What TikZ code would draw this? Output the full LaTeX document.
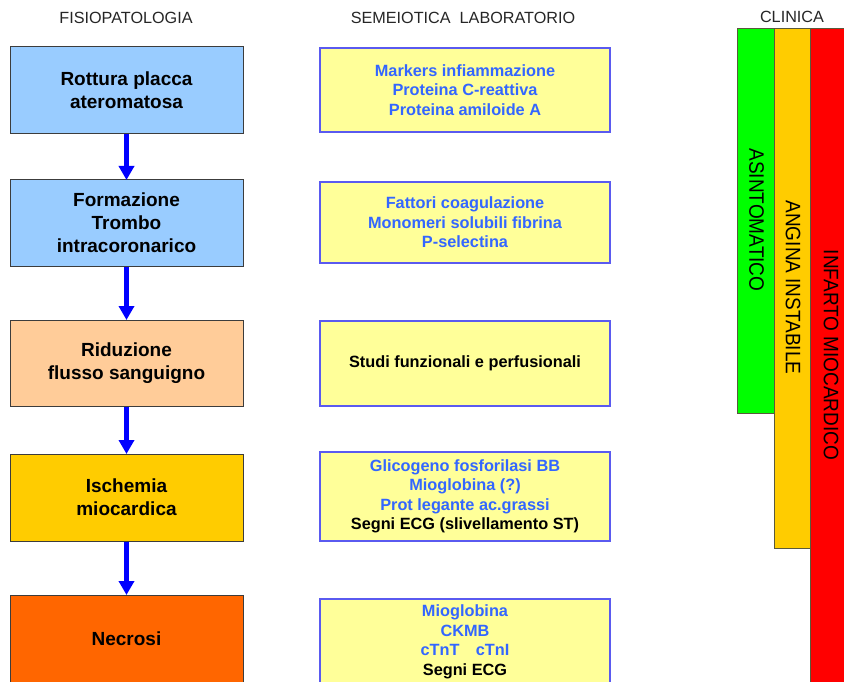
\documentclass[tikz,border=0pt]{standalone}
\usepackage{fontspec}
\usepackage{graphicx}
\setmainfont{Liberation Sans}
\usetikzlibrary{arrows.meta}

\definecolor{skyfill}{RGB}{153,204,255}
\definecolor{peachfill}{RGB}{255,204,153}
\definecolor{amberfill}{RGB}{255,204,0}
\definecolor{orangefill}{RGB}{255,102,0}
\definecolor{labfill}{RGB}{255,255,153}
\definecolor{labtext}{RGB}{51,102,255}
\definecolor{labedge}{RGB}{90,90,240}
\definecolor{boxedge}{RGB}{60,60,60}
\definecolor{baredge}{RGB}{90,90,60}
\definecolor{greenbar}{RGB}{0,255,0}
\definecolor{redbar}{RGB}{255,0,0}

\tikzset{
  header/.style={font=\fontsize{16.2}{19}\selectfont, text=black!85},
  patobox/.style={draw=boxedge, line width=1pt, minimum width=233pt,
    inner sep=0pt, outer sep=0pt, align=center,
    font=\fontsize{19}{23}\selectfont\bfseries},
  labbox/.style={draw=labedge, fill=labfill, line width=1.3pt, minimum width=290pt,
    inner sep=0pt, outer sep=0pt, align=center, text=labtext,
    font=\fontsize{16.3}{19.5}\selectfont\bfseries},
  flowarrow/.style={draw=blue, line width=4.5pt,
    -{Triangle[width=15pt,length=14pt]}, shorten <=0.5pt},
  bar/.style={draw=baredge, line width=1pt},
  bartext/.style={rotate=-90, font=\fontsize{19}{22}\selectfont, text=black}
}

\begin{document}
\begin{tikzpicture}[x=1pt,y=-1pt]
\useasboundingbox (0,0) rectangle (844,682);
\fill[white] (0,0) rectangle (844,682);
\clip (0,0) rectangle (844,682);

% column headings
\node[header] (h1) at (126,18) {FISIOPATOLOGIA};
\node[header] (h2) at (463,18) {SEMEIOTICA\ \ LABORATORIO};
\node[header] (h3) at (792,17) {CLINICA};

% pathophysiology chain
\node[patobox, fill=skyfill, minimum height=87pt] (p1) at (126.5,90.5) {Rottura placca\\ateromatosa};
\node[patobox, fill=skyfill, minimum height=86pt] (p2) at (126.5,223) {Formazione\\Trombo\\intracoronarico};
\node[patobox, fill=peachfill, minimum height=86pt] (p3) at (126.5,363) {Riduzione\\flusso sanguigno};
\node[patobox, fill=amberfill, minimum height=87pt] (p4) at (126.5,497.5) {Ischemia\\miocardica};
\node[patobox, fill=orangefill, minimum height=87pt] (p5) at (126.5,638.5) {Necrosi};

\draw[flowarrow] (p1.south) -- (p2.north);
\draw[flowarrow] (p2.south) -- (p3.north);
\draw[flowarrow] (p3.south) -- (p4.north);
\draw[flowarrow] (p4.south) -- (p5.north);

% laboratory findings
\node[labbox, minimum height=84pt] (s1) at (465,90) {Markers infiammazione\\Proteina C-reattiva\\Proteina amiloide A};
\node[labbox, minimum height=81pt] (s2) at (465,222.5) {Fattori coagulazione\\Monomeri solubili fibrina\\P-selectina};
\node[labbox, minimum height=85pt, text=black] (s3) at (465,363.5) {Studi funzionali e perfusionali};
\node[labbox, minimum height=89pt] (s4) at (465,496.5) {Glicogeno fosforilasi BB\\Mioglobina (?)\\Prot legante ac.grassi\\\textcolor{black}{Segni ECG (slivellamento ST)}};
\node[labbox, minimum height=86pt] (s5) at (465,642) {Mioglobina\\CKMB\\cTnT\quad cTnI\\\textcolor{black}{Segni ECG}};

% clinical spectrum bars
\draw[bar, fill=redbar] (810.7,28.3) rectangle (860,700);
\draw[bar, fill=amberfill] (774,28.3) rectangle (810.7,548.3);
\draw[bar, fill=greenbar] (737.3,28.3) rectangle (774,413.3);

\node[bartext] (c1) at (756.5,220) {\scalebox{1}[1.1]{ASINTOMATICO}};
\node[bartext] (c2) at (793,287.5) {\scalebox{1}[1.1]{ANGINA INSTABILE}};
\node[bartext] (c3) at (831,355) {\scalebox{1}[1.1]{INFARTO MIOCARDICO}};
\end{tikzpicture}
\end{document}
